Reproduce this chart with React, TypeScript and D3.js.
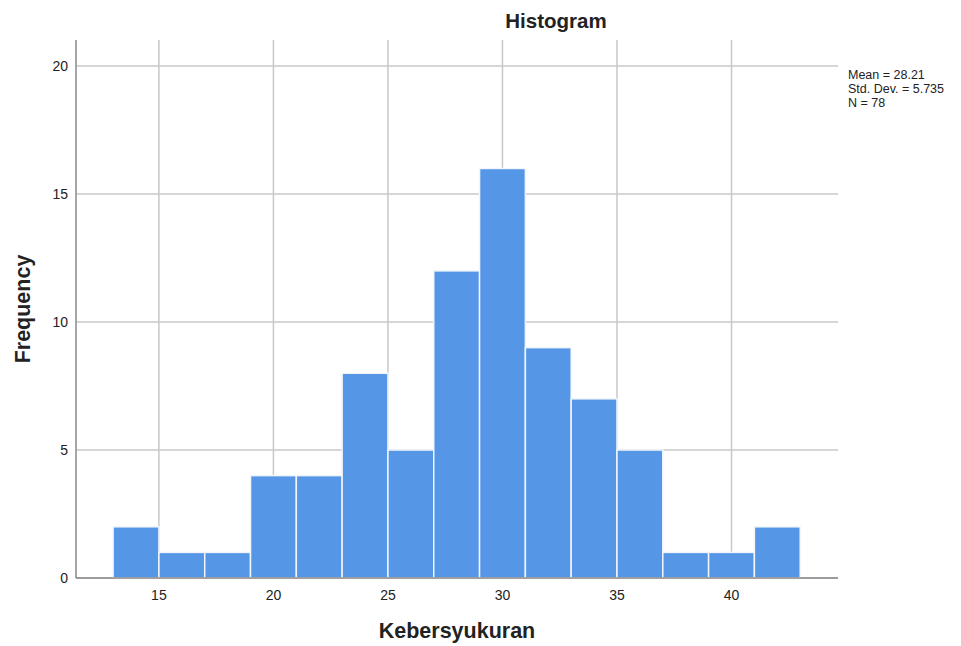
import React from "react";
import * as d3 from "d3";

const binStarts = [13, 15, 17, 19, 21, 23, 25, 27, 29, 31, 33, 35, 37, 39, 41];
const binWidth = 2;
const frequencies = [2, 1, 1, 4, 4, 8, 5, 12, 16, 9, 7, 5, 1, 1, 2];
const xTicks = [15, 20, 25, 30, 35, 40];
const yTicks = [0, 5, 10, 15, 20];
const statsLines = ["Mean = 28.21", "Std. Dev. = 5.735", "N = 78"];

export default function App() {
  const W = 961, H = 646;
  const left = 76, right = 838, top = 40, bottom = 578;
  const x = d3.scaleLinear().domain([11.38, 44.65]).range([left, right]);
  const y = d3.scaleLinear().domain([0, 21.02]).range([bottom, top]);
  const font = "Arial, 'Liberation Sans', sans-serif";
  return (
    <svg width={W} height={H} style={{ position: "absolute", left: 0, top: 0 }} fontFamily={font}>
      <rect width={W} height={H} fill="#fff" />
      {yTicks.map(t => (
        <line key={"gy" + t} x1={left} x2={right} y1={y(t)} y2={y(t)} stroke="#c8c8c8" strokeWidth={1.5} />
      ))}
      {xTicks.map(t => (
        <line key={"gx" + t} x1={x(t)} x2={x(t)} y1={top} y2={bottom} stroke="#c8c8c8" strokeWidth={1.5} />
      ))}
      {binStarts.map((b, i) => (
        <rect key={"b" + i} x={x(b)} y={y(frequencies[i])} width={x(b + binWidth) - x(b)} height={y(0) - y(frequencies[i])}
          fill="#5596e6" stroke="#f2f6fc" strokeWidth={1.5} />
      ))}
      <line x1={left} x2={left} y1={top} y2={bottom} stroke="#888" strokeWidth={1.5} />
      <line x1={left} x2={right} y1={bottom} y2={bottom} stroke="#888" strokeWidth={1.5} />
      {yTicks.map(t => (
        <text key={"ty" + t} x={left - 8} y={y(t)} dy="0.35em" textAnchor="end" fontSize={14} fill="#222">{t}</text>
      ))}
      {xTicks.map(t => (
        <text key={"tx" + t} x={x(t)} y={bottom + 17} dy="0.35em" textAnchor="middle" fontSize={14} fill="#222">{t}</text>
      ))}
      <text x={556} y={28} textAnchor="middle" fontSize={20.5} fontWeight="bold" fill="#222">Histogram</text>
      <text x={457} y={638} textAnchor="middle" fontSize={21.5} fontWeight="bold" fill="#222">Kebersyukuran</text>
      <text transform={`translate(30,309) rotate(-90)`} textAnchor="middle" fontSize={21.5} fontWeight="bold" fill="#222">Frequency</text>
      {statsLines.map((s, i) => (
        <text key={"s" + i} x={848} y={79 + i * 14} fontSize={12.5} fill="#222">{s}</text>
      ))}
    </svg>
  );
}
